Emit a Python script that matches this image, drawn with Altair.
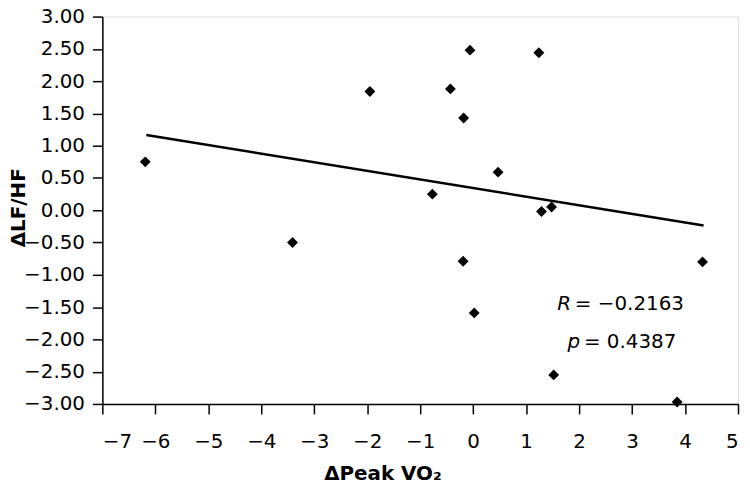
import altair as alt
import pandas as pd

# scatter data (ΔPeak VO2, ΔLF/HF)
peak_vo2 = [-6.19, -3.41, -1.95, -0.06, 1.24, -0.43, -0.18, 0.47, -0.77, 1.29, 1.48, -0.19, 4.33, 0.02, 1.52, 3.85]
lf_hf = [0.75, -0.50, 1.84, 2.48, 2.44, 1.88, 1.43, 0.59, 0.25, -0.02, 0.05, -0.79, -0.80, -1.59, -2.55, -2.97]

# regression line end points
fit_x = [-6.17, 4.35]
fit_y = [1.165, -0.235]

# axis ticks
x_ticks = [-7, -6, -5, -4, -3, -2, -1, 0, 1, 2, 3, 4, 5]
y_ticks = [-3, -2.5, -2, -1.5, -1, -0.5, 0, 0.5, 1, 1.5, 2, 2.5, 3]

# annotation
stat_names = ["R", "p"]
stat_values = ["= \u22120.2163", "= 0.4387"]

FONT = "DejaVu Sans"

pts = pd.DataFrame({"x": peak_vo2, "y": lf_hf})
fit = pd.DataFrame({"x": fit_x, "y": fit_y})

xscale = alt.Scale(domain=[-7, 5], nice=False, zero=False)
yscale = alt.Scale(domain=[-3, 3], nice=False, zero=False)

xaxis = alt.Axis(
    title="\u0394Peak VO\u2082",
    values=x_ticks,
    labelExpr="replace(format(datum.value, 'd'), '-', '\u2212')",
    labelOverlap=False,
    grid=False,
    domainColor="black",
    domainWidth=1.5,
    tickColor="black",
    tickWidth=1.5,
    tickSize=10,
    labelPadding=18,
    labelFontSize=20,
    labelFont=FONT,
    labelColor="black",
    labelLimit=0,
    titleFont=FONT,
    titleFontSize=20,
    titleFontWeight=600,
    titleColor="black",
    titleX=282,
    titleY=60,
    titleAnchor="middle",
)
yaxis = alt.Axis(
    title="\u0394LF/HF",
    values=y_ticks,
    labelExpr="replace(format(datum.value, '.2f'), '-', '\u2212')",
    labelOverlap=False,
    grid=False,
    domainColor="black",
    domainWidth=1.5,
    tickColor="black",
    tickWidth=1.5,
    tickSize=10,
    labelPadding=8,
    labelFontSize=20,
    labelFont=FONT,
    labelColor="black",
    labelLimit=0,
    titleFont=FONT,
    titleFontSize=20,
    titleFontWeight=600,
    titleColor="black",
    titleX=-74,
    titleY=192,
)

X = alt.X("x:Q", scale=xscale, axis=xaxis)
Y = alt.Y("y:Q", scale=yscale, axis=yaxis)

line = alt.Chart(fit).mark_line(color="black", strokeWidth=2.5).encode(x=X, y=Y)

points = alt.Chart(pts).mark_point(
    shape="diamond", filled=True, size=120, color="black", opacity=1
).encode(x=X, y=Y)

ann = pd.DataFrame({
    "name": stat_names,
    "value": stat_values,
    "nx": [1.85, 2.02],
    "vx": [1.92, 2.09],
    "y": [-1.46, -2.04],
})

names = alt.Chart(ann).mark_text(
    align="right", baseline="middle", fontSize=20, font=FONT, fontStyle="italic", color="black"
).encode(x=alt.X("nx:Q", scale=xscale, axis=xaxis), y=Y, text="name:N")

values = alt.Chart(ann).mark_text(
    align="left", baseline="middle", fontSize=20, font=FONT, color="black"
).encode(x=alt.X("vx:Q", scale=xscale, axis=xaxis), y=Y, text="value:N")

chart = (
    alt.layer(line, points, names, values)
    .properties(
        width=640,
        height=390,
        autosize=alt.AutoSizeParams(type="none"),
        padding={"left": 95, "top": 7, "right": 4, "bottom": 86},
    )
    .configure_view(stroke="black", strokeWidth=1.5)
    .configure(background="white")
)

chart.save("out.html", embed_options={"renderer": "svg", "actions": False})
